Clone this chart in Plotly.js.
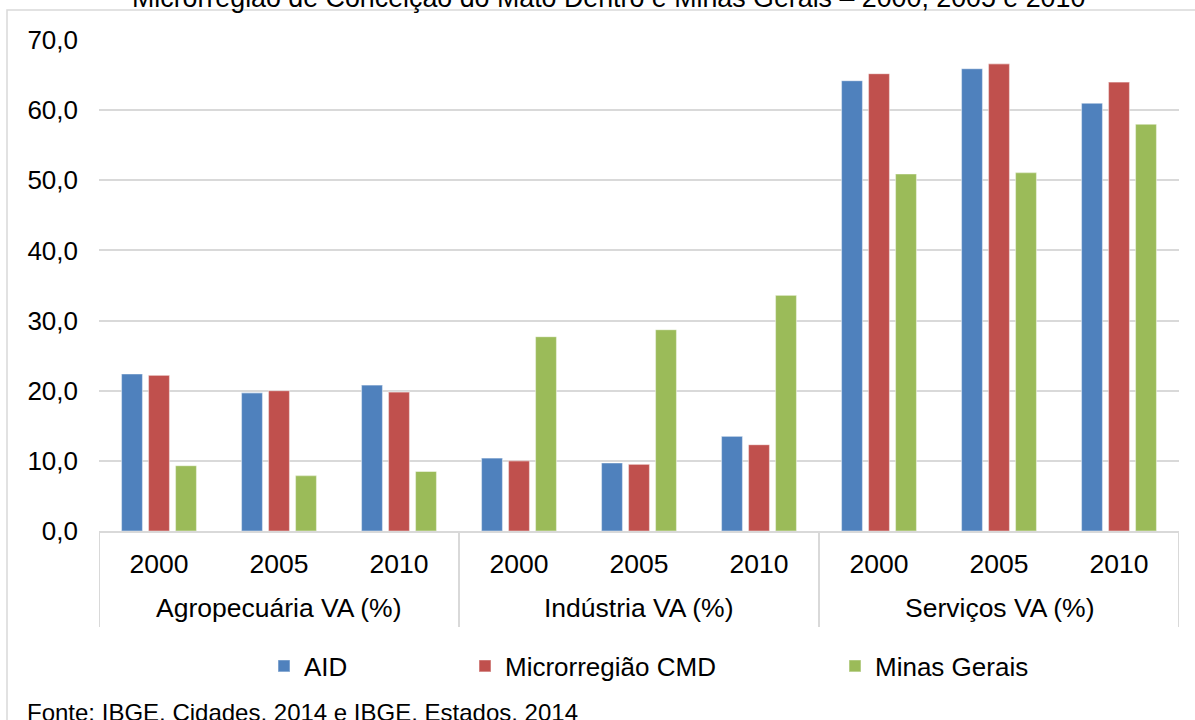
<!DOCTYPE html>
<html>
<head>
<meta charset="utf-8">
<script src="https://cdn.plot.ly/plotly-3.0.1.min.js"></script>
<style>
  html, body { margin: 0; padding: 0; background: #ffffff; }
  #chart { width: 1195px; height: 720px; }
</style>
</head>
<body>
<div id="chart"></div>
<script>
// ---- data ----
const sectors = ["Agropecuária VA (%)", "Indústria VA (%)", "Serviços VA (%)"];
const years = ["2000", "2005", "2010"];
const seriesNames = ["AID", "Microrregião CMD", "Minas Gerais"];
const aid = [22.4, 19.7, 20.8, 10.4, 9.7, 13.5, 64.2, 65.9, 61.0];
const cmd = [22.2, 20.0, 19.8, 10.0, 9.5, 12.3, 65.2, 66.6, 64.0];
const mg  = [9.3, 7.9, 8.5, 27.7, 28.7, 33.6, 50.9, 51.1, 58.0];
const titleText = "Microrregião de Conceição do Mato Dentro e Minas Gerais – 2000, 2005 e 2010";
const sourceText = "Fonte: IBGE, Cidades, 2014 e IBGE, Estados, 2014";

// ---- category positions (one slot per sector/year pair) ----
const slotIdx = [], slotText = [];
sectors.forEach((s, si) => years.forEach((y, yi) => {
  slotIdx.push(si * years.length + yi);
  slotText.push(y);
}));
const nSlots = slotIdx.length;

const colors = ["#4F81BD", "#C0504D", "#9BBB59"];
const values = [aid, cmd, mg];
const legendIds = ["legend", "legend2", "legend3"];

const traces = values.map((v, i) => ({
  type: "bar",
  name: seriesNames[i],
  x: slotIdx,
  y: v,
  legend: legendIds[i],
  marker: { color: colors[i], line: { color: "rgba(255,255,255,0.45)", width: 1.2 } },
  hovertext: slotIdx.map(k => sectors[Math.floor(k / years.length)] + " " + slotText[k]),
  hoverinfo: "text+y+name"
}));

const W = 1195, H = 720;
const L = 99, R = 16, T = 40, B = 189;
const pw = W - L - R, ph = H - T - B;
const px2x = p => (p - L) / pw;
const py2y = p => (H - B - p) / ph;

const fam = "Arial, 'Liberation Sans', sans-serif";
const font = { family: fam, size: 26, color: "#000000" };

function legendAt(px) {
  return {
    orientation: "h",
    x: px2x(px), xanchor: "left",
    y: py2y(666), yanchor: "middle",
    bgcolor: "rgba(0,0,0,0)",
    borderwidth: 0,
    font: font
  };
}

// sector group labels and dividers (derived from category arrays)
const sectorAnns = sectors.map((s, si) => ({
  text: s, showarrow: false,
  xref: "x", yref: "paper",
  x: si * years.length + (years.length - 1) / 2, xanchor: "center",
  y: py2y(608), yanchor: "middle",
  font: { family: fam, size: 26.5, color: "#000000" }
}));
const dividerShapes = [];
for (let g = 0; g <= sectors.length; g++) {
  const xv = g * years.length - 0.5;
  dividerShapes.push({
    type: "line", xref: "x", yref: "paper",
    x0: xv, x1: xv, y0: 0, y1: py2y(627),
    line: { color: "#D9D9D9", width: 2 }
  });
}

const layout = {
  width: W, height: H,
  margin: { l: L, r: R, t: T, b: B, pad: 0 },
  paper_bgcolor: "#ffffff",
  plot_bgcolor: "#ffffff",
  separators: ",.",
  font: font,
  showlegend: true,
  barmode: "group",
  bargap: 0.325,
  bargroupgap: 0.222,
  xaxis: {
    type: "linear",
    range: [-0.5, nSlots - 0.5],
    tickmode: "array",
    tickvals: slotIdx,
    ticktext: slotText,
    showline: true,
    linecolor: "#D9D9D9",
    linewidth: 2,
    showgrid: false,
    zeroline: false,
    ticks: "",
    ticklabelstandoff: 8,
    tickfont: { family: fam, size: 26.5, color: "#000000" },
    fixedrange: true
  },
  yaxis: {
    range: [0, 70],
    dtick: 10,
    tick0: 0,
    tickformat: ".1f",
    showgrid: true,
    gridcolor: "#D9D9D9",
    gridwidth: 2,
    zeroline: false,
    showline: false,
    ticks: "",
    ticklabelstandoff: 20,
    tickfont: font,
    fixedrange: true
  },
  legend: legendAt(264),
  legend2: legendAt(465),
  legend3: legendAt(835),
  shapes: [{
    type: "rect", xref: "paper", yref: "paper",
    x0: px2x(7), x1: px2x(1205), y0: py2y(740), y1: py2y(10),
    line: { color: "#D9D9D9", width: 1.5 },
    fillcolor: "rgba(0,0,0,0)",
    layer: "below"
  }].concat(dividerShapes),
  annotations: [
    {
      text: titleText, showarrow: false,
      xref: "paper", yref: "paper",
      x: px2x(608), xanchor: "center",
      y: py2y(-2), yanchor: "middle",
      font: { family: fam, size: 26.8, color: "#000000" }
    },
    {
      text: sourceText, showarrow: false,
      xref: "paper", yref: "paper",
      x: px2x(25), xanchor: "left",
      y: py2y(712), yanchor: "middle",
      font: { family: fam, size: 24, color: "#000000" }
    }
  ].concat(sectorAnns)
};

Plotly.newPlot("chart", traces, layout, { displayModeBar: false, staticPlot: true });
</script>
</body>
</html>
